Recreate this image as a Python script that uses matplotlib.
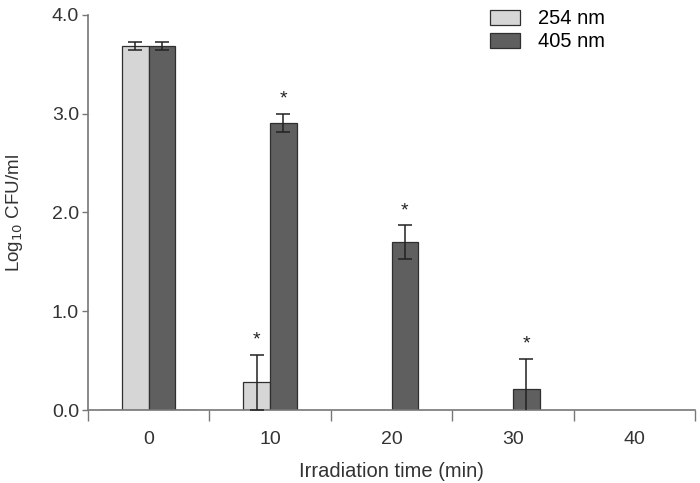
import matplotlib.pyplot as plt
import numpy as np

plt.rcParams["font.family"] = ["Liberation Sans", "DejaVu Sans"]

times = ["0", "10", "20", "30", "40"]
uv254 = [3.69, 0.28, 0.0, 0.0, 0.0]
uv254_err = [0.04, 0.28, 0.0, 0.0, 0.0]
uv405 = [3.69, 2.91, 1.70, 0.21, 0.0]
uv405_err = [0.04, 0.09, 0.17, 0.31, 0.0]
star254 = [False, True, False, False, False]
star405 = [False, True, True, True, False]

x = np.arange(len(times))
w = 0.22

fig = plt.figure(figsize=(7, 4.83), dpi=100)
ax = fig.add_axes([0.1257, 0.1511, 0.8673, 0.8179])

light = "#d6d6d6"
dark = "#5f5f5f"
edge = "#2f2f2f"

for i in range(len(times)):
    if uv254[i] > 0:
        ax.bar(x[i] - w / 2, uv254[i], w, color=light, edgecolor=edge, linewidth=0.9, zorder=2)
        ax.errorbar(x[i] - w / 2, uv254[i], yerr=uv254_err[i], color="#222222",
                    elinewidth=1.1, capsize=5, capthick=1.1, zorder=3)
    if uv405[i] > 0:
        ax.bar(x[i] + w / 2, uv405[i], w, color=dark, edgecolor=edge, linewidth=0.9, zorder=2)
        ax.errorbar(x[i] + w / 2, uv405[i], yerr=uv405_err[i], color="#222222",
                    elinewidth=1.1, capsize=5, capthick=1.1, zorder=3)
    if star254[i]:
        ax.text(x[i] - w / 2, uv254[i] + uv254_err[i] + 0.06, "*", ha="center", va="bottom",
                fontsize=14, color="#222222")
    if star405[i]:
        ax.text(x[i] + w / 2, uv405[i] + uv405_err[i] + 0.06, "*", ha="center", va="bottom",
                fontsize=14, color="#222222")

# empty bars only for the legend entries
ax.bar([0], [0], color=light, edgecolor=edge, linewidth=0.9, label="254 nm")
ax.bar([0], [0], color=dark, edgecolor=edge, linewidth=0.9, label="405 nm")
ax.legend(loc="upper right", bbox_to_anchor=(0.882, 1.06), frameon=False, fontsize=14.5,
          handlelength=1.5, handleheight=0.75, labelspacing=0.2, handletextpad=0.9)

ax.set_xlim(-0.5, 4.5)
ax.set_ylim(0, 4.0)
ax.set_xticks(np.arange(-0.5, 5.0, 1.0))
ax.set_xticklabels([])
ax.set_xticks(x, minor=True)
ax.set_xticklabels(times, minor=True)
ax.tick_params(axis="x", which="major", length=8, width=1.0, color="#777777", direction="out")
ax.tick_params(axis="x", which="minor", length=0, pad=15, labelsize=14, labelcolor="#333333")

ax.set_yticks([0, 1, 2, 3, 4])
ax.set_yticklabels(["0.0", "1.0", "2.0", "3.0", "4.0"])
ax.tick_params(axis="y", length=4.5, width=1.0, color="#777777", labelsize=14,
               labelcolor="#333333", pad=2)

for s in ["top", "right"]:
    ax.spines[s].set_visible(False)
for s in ["left", "bottom"]:
    ax.spines[s].set_color("#777777")
    ax.spines[s].set_linewidth(1.2)

ax.set_xlabel("Irradiation time (min)", fontsize=14.5, color="#333333", labelpad=10)
ax.set_ylabel("Log$_{10}$ CFU/ml", fontsize=13.5, color="#333333", labelpad=19)

fig.savefig("out.png", dpi=100)
